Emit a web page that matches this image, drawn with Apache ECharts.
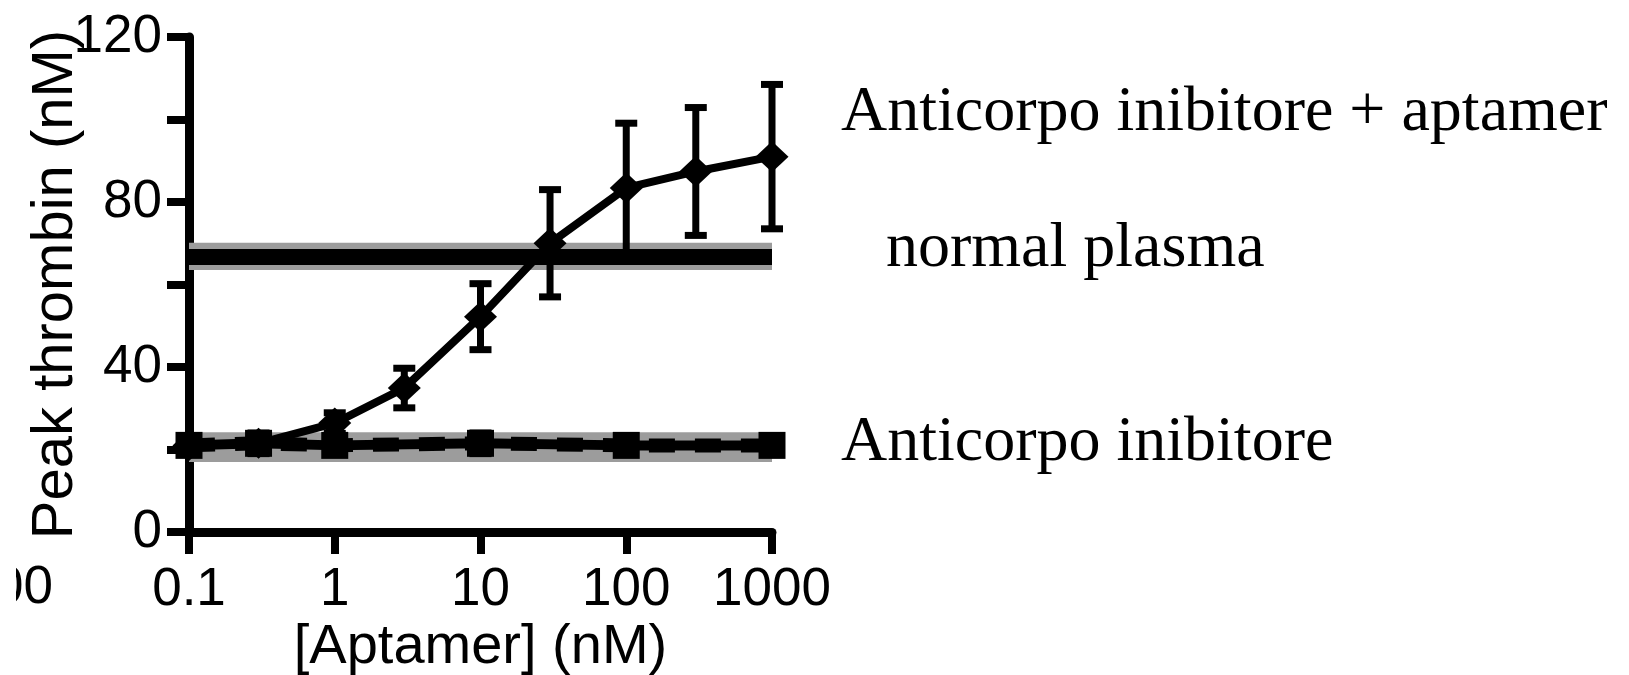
<!DOCTYPE html>
<html>
<head>
<meta charset="utf-8">
<script src="https://cdn.jsdelivr.net/npm/echarts@6/dist/echarts.min.js"></script>
<style>
  html, body { margin: 0; padding: 0; background: #fff; }
  #chart { width: 1629px; height: 675px; }
</style>
</head>
<body>
<div id="chart"></div>
<script>
// aptamer titration on top of the inhibitory antibody
const aptamerConc = [0.1, 0.3, 1, 3, 10, 30, 100, 300, 1000];
const peakWithAptamer = [21, 21.5, 26.4, 34.9, 52.2, 70, 83.4, 87.4, 91];
const errWithAptamer = [1.5, 2, 2.5, 4.8, 8, 13, 15.7, 15.5, 17.5];

// antibody alone
const antibodyConc = [0.1, 0.3, 1, 10, 100, 1000];
const peakAntibody = [21, 21.5, 21, 21.5, 21, 21];
const errAntibody = [2, 2.5, 2, 2.5, 2, 2];

// reference bands (mean +/- sd)
const normalMean = 66.8;
const normalSd = 3.3;
const antibodyMean = 20.6;
const antibodySd = 3.6;

const yLabelTicks = [0, 40, 80, 120];
const xRange = [0.1, 1000];

const labels = {
  withAptamer: 'Anticorpo inibitore + aptamer',
  normal: 'normal plasma',
  antibody: 'Anticorpo inibitore'
};

const sans = 'Liberation Sans, Arial, sans-serif';
const serif = 'Liberation Serif, Times New Roman, serif';

function errorBars(xs, ys, es) {
  return xs.map((x, i) => [x, ys[i], es[i]]);
}

function renderErr(params, api) {
  const x = api.value(0), y = api.value(1), e = api.value(2);
  const top = api.coord([x, y + e]);
  const bot = api.coord([x, y - e]);
  const w = 11;
  const style = { stroke: '#000', lineWidth: 7 };
  return {
    type: 'group',
    children: [
      { type: 'line', shape: { x1: top[0], y1: top[1], x2: bot[0], y2: bot[1] }, style: style },
      { type: 'line', shape: { x1: top[0] - w, y1: top[1], x2: top[0] + w, y2: top[1] }, style: style },
      { type: 'line', shape: { x1: bot[0] - w, y1: bot[1], x2: bot[0] + w, y2: bot[1] }, style: style }
    ]
  };
}

const chart = echarts.init(document.getElementById('chart'));
chart.setOption({
  animation: false,
  grid: { left: 189, right: 857, top: 37, bottom: 143, containLabel: false, outerBoundsMode: 'none' },
  xAxis: {
    type: 'log',
    logBase: 10,
    min: xRange[0],
    max: xRange[1],
    name: '[Aptamer] (nM)',
    nameLocation: 'middle',
    nameMoveOverlap: false,
    nameGap: 88,
    nameTextStyle: { fontSize: 56, fontFamily: sans, color: '#000' },
    axisLine: { lineStyle: { color: '#000', width: 9 } },
    axisTick: { length: 22, lineStyle: { color: '#000', width: 8 } },
    minorTick: { show: false },
    splitLine: { show: false },
    axisLabel: {
      fontSize: 53, fontFamily: sans, color: '#000', margin: 32,
      formatter: v => String(+Number(v).toPrecision(3))
    }
  },
  yAxis: {
    type: 'value',
    min: 0,
    max: 120,
    interval: 20,
    name: 'Peak thrombin (nM)',
    nameLocation: 'middle',
    nameMoveOverlap: false,
    nameGap: 104,
    nameTextStyle: { fontSize: 58, fontFamily: sans, color: '#000' },
    axisLine: { show: true, lineStyle: { color: '#000', width: 9 } },
    axisTick: { show: true, length: 22, lineStyle: { color: '#000', width: 8 } },
    splitLine: { show: false },
    axisLabel: {
      fontSize: 53, fontFamily: sans, color: '#000', margin: 27,
      formatter: v => (yLabelTicks.indexOf(v) >= 0 ? String(v) : '')
    }
  },
  series: [
    {
      // bands and mean lines
      type: 'line',
      data: [],
      z: 1,
      markArea: {
        silent: true,
        itemStyle: { color: '#9c9c9c' },
        data: [
          [{ coord: [xRange[0], normalMean + normalSd] }, { coord: [xRange[1], normalMean - normalSd] }],
          [{ coord: [xRange[0], antibodyMean + antibodySd] }, { coord: [xRange[1], antibodyMean - antibodySd] }]
        ]
      },
      markLine: {
        silent: true,
        symbol: 'none',
        label: { show: false },
        lineStyle: { color: '#000', width: 16, type: 'solid', cap: 'butt' },
        data: [
          [{ coord: [xRange[0], normalMean] }, { coord: [xRange[1], normalMean] }]
        ]
      }
    },
    {
      name: labels.withAptamer,
      type: 'line',
      z: 3,
      data: aptamerConc.map((x, i) => [x, peakWithAptamer[i]]),
      symbol: 'diamond',
      symbolSize: [33, 31],
      itemStyle: { color: '#000' },
      lineStyle: { color: '#000', width: 8 }
    },
    {
      type: 'custom',
      z: 4,
      renderItem: renderErr,
      data: errorBars(aptamerConc, peakWithAptamer, errWithAptamer)
    },
    {
      name: labels.antibody,
      type: 'line',
      z: 5,
      data: antibodyConc.map((x, i) => [x, peakAntibody[i]]),
      symbol: 'rect',
      symbolSize: 27,
      itemStyle: { color: '#000' },
      lineStyle: { color: '#000', width: 10 }
    },
    {
      type: 'line',
      z: 5,
      data: antibodyConc.map((x, i) => [x, peakAntibody[i]]),
      symbol: 'none',
      lineStyle: { color: '#000', width: 14, type: [26, 20] }
    },
    {
      type: 'custom',
      z: 6,
      renderItem: renderErr,
      data: errorBars(antibodyConc, peakAntibody, errAntibody)
    }
  ],
  graphic: [
    { type: 'text', left: 841, top: 81, style: { text: labels.withAptamer, font: '64px ' + serif, fill: '#000' } },
    { type: 'text', left: 886, top: 217, style: { text: labels.normal, font: '64px ' + serif, fill: '#000' } },
    { type: 'text', left: 841, top: 411, style: { text: labels.antibody, font: '64px ' + serif, fill: '#000' } },
    { type: 'text', x: 53, y: 588, style: { text: '100', font: '53px ' + sans, fill: '#000', textAlign: 'right', textVerticalAlign: 'middle' } },
    { type: 'rect', shape: { x: 0, y: 540, width: 16, height: 100 }, style: { fill: '#fff' }, z: 10 }
  ]
});
</script>
</body>
</html>
